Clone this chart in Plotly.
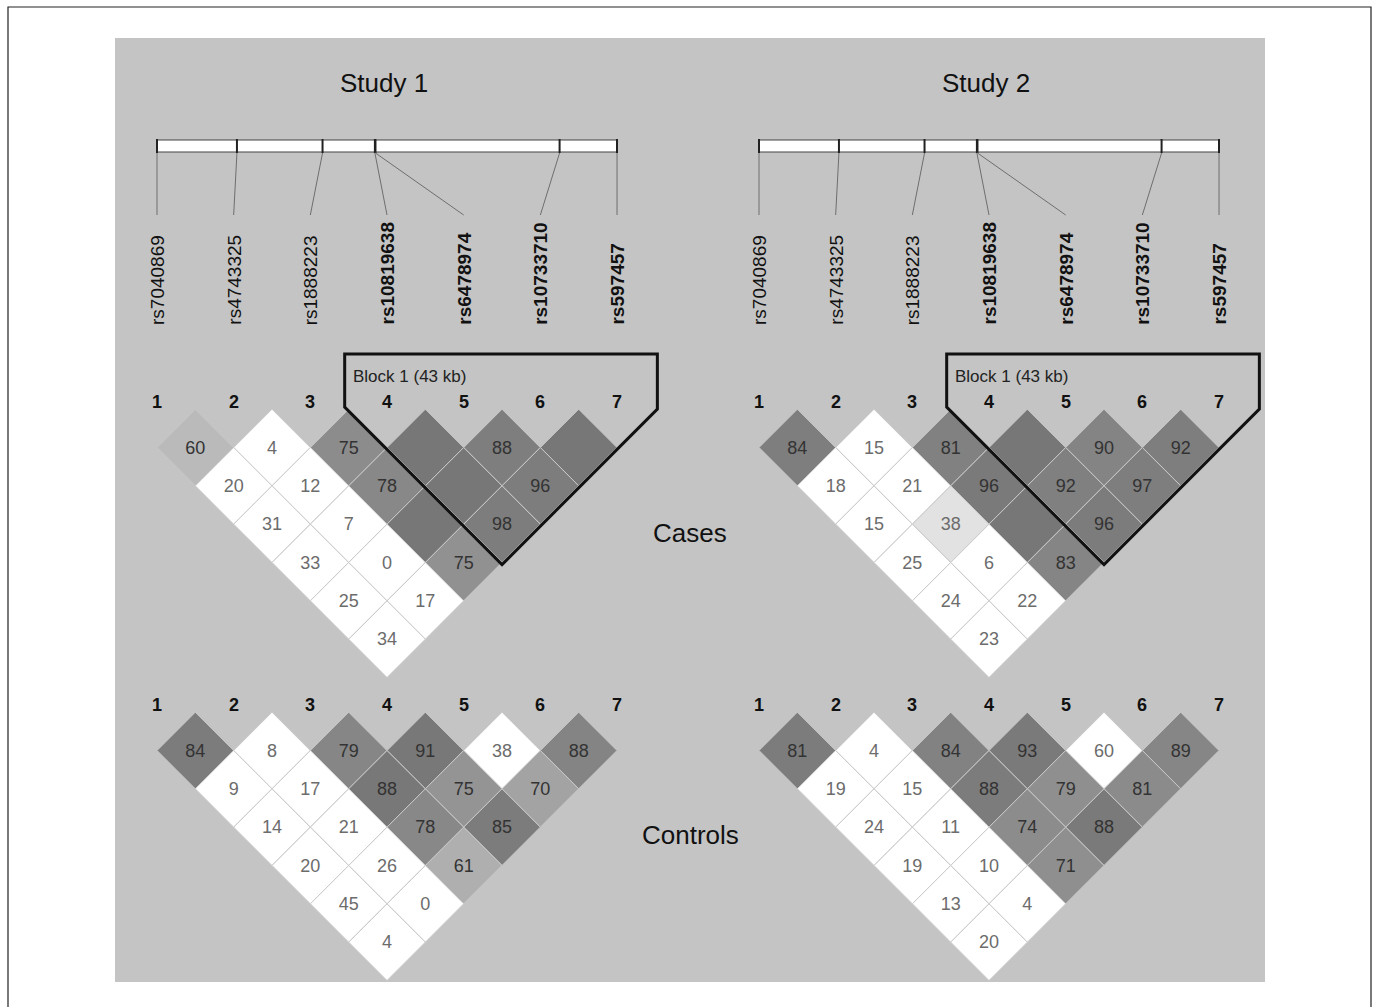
import plotly.graph_objects as go

# ---------------- DATA ----------------
markers = ["rs7040869", "rs4743325", "rs1888223", "rs10819638",
           "rs6478974", "rs10733710", "rs597457"]
marker_in_block = [False, False, False, True, True, True, True]
marker_kb = [0.0, 14.2, 29.4, 38.7, 38.8, 71.5, 81.7]   # physical position (kb)
block_range = (4, 7)                                     # 1-based markers
block_label = "Block 1 (43 kb)"

studies = ["Study 1", "Study 2"]
groups = ["Cases", "Controls"]

# D' x100 listed by diagonal distance d = 1..6 (first marker ascending).
# None = D' of 1 (Haploview leaves it blank)
s1_cases_dprime = [[60, 4, 75, None, 88, None],
                   [20, 12, 78, None, 96],
                   [31, 7, None, 98],
                   [33, 0, 75],
                   [25, 17],
                   [34]]
s1_cases_ld = [[0.50, 0, 0.84, 0.99, 0.94, 0.99],
               [0, 0, 0.87, 0.99, 0.95],
               [0, 0, 0.99, 0.95],
               [0, 0, 0.80],
               [0, 0],
               [0]]

s2_cases_dprime = [[84, 15, 81, None, 90, 92],
                   [18, 21, 96, 92, 97],
                   [15, 38, None, 96],
                   [25, 6, 83],
                   [24, 22],
                   [23]]
s2_cases_ld = [[0.94, 0, 0.92, 0.99, 0.90, 0.94],
               [0, 0, 0.97, 0.93, 0.94],
               [0, 0.21, 0.99, 0.955],
               [0, 0, 0.89],
               [0, 0],
               [0]]

s1_controls_dprime = [[84, 8, 79, 91, 38, 88],
                      [9, 17, 88, 75, 70],
                      [14, 21, 78, 85],
                      [20, 26, 61],
                      [45, 0],
                      [4]]
s1_controls_ld = [[0.955, 0, 0.88, 0.985, 0, 0.90],
                  [0, 0, 0.985, 0.78, 0.67],
                  [0, 0, 0.87, 0.955],
                  [0, 0, 0.585],
                  [0, 0],
                  [0]]

s2_controls_dprime = [[81, 4, 84, 93, 60, 89],
                      [19, 15, 88, 79, 81],
                      [24, 11, 74, 88],
                      [19, 10, 71],
                      [13, 4],
                      [20]]
s2_controls_ld = [[0.955, 0, 0.915, 0.97, 0, 0.88],
                  [0, 0, 0.955, 0.82, 0.85],
                  [0, 0, 0.84, 0.97],
                  [0, 0, 0.82],
                  [0, 0],
                  [0]]

panels = {
    (0, 0): (s1_cases_dprime, s1_cases_ld),
    (1, 0): (s2_cases_dprime, s2_cases_ld),
    (0, 1): (s1_controls_dprime, s1_controls_ld),
    (1, 1): (s2_controls_dprime, s2_controls_ld),
}

# ---------------- LAYOUT CONSTANTS ----------------
W, H = 1376, 1007
STUDY_X1 = [157, 759]          # x of marker 1 in each study
SP = 76.67                     # marker spacing
HALF = SP / 2
NUM_Y = [402, 705]             # y of marker numbers (cases, controls)
ROW1_OFF = 45.5
TEXT_NUDGE = 1.5
BAR_Y0, BAR_Y1 = 140, 152
CONN_Y = 215
LABEL_Y = 327
BLOCK_TOP = 354
FONT = "Liberation Sans, Arial, sans-serif"
BG_GRAY = "#c4c4c4"

n = len(markers)


def mx(s, i):          # i: 0-based marker index
    return STUDY_X1[s] + i * SP


def gray(v):
    g = round(255 - v * (255 - 118))
    return f"rgb({g},{g},{g})"


shapes = []
annotations = []
traces = []

# outer frame and gray panel
shapes.append(dict(type="rect", xref="x", yref="y", x0=8, x1=1371, y0=7, y1=1012,
                   line=dict(color="#222", width=1.2), fillcolor="white", layer="below"))
shapes.append(dict(type="rect", xref="x", yref="y", x0=115, x1=1265, y0=38, y1=982,
                   line=dict(width=0), fillcolor=BG_GRAY, layer="below"))

for s in range(2):
    x_first, x_last = mx(s, 0), mx(s, n - 1)
    kb_span = marker_kb[-1] - marker_kb[0]

    def kbx(kb):
        return x_first + (kb - marker_kb[0]) * (x_last - x_first) / kb_span

    # title
    annotations.append(dict(x=(x_first + x_last) / 2 - 3.5, y=83, text=studies[s],
                            showarrow=False, font=dict(family=FONT, size=26, color="#111"),
                            xanchor="center", yanchor="middle"))
    # gene bar
    shapes.append(dict(type="rect", xref="x", yref="y", x0=kbx(marker_kb[0]), x1=kbx(marker_kb[-1]),
                       y0=BAR_Y0, y1=BAR_Y1, fillcolor="white",
                       line=dict(color="#444", width=1.2), layer="below"))
    for i in range(n):
        px = kbx(marker_kb[i])
        shapes.append(dict(type="line", xref="x", yref="y", x0=px, x1=px,
                           y0=BAR_Y0 - 1, y1=BAR_Y1 + 1, line=dict(color="#222", width=2),
                           layer="below"))
        shapes.append(dict(type="line", xref="x", yref="y", x0=px, x1=mx(s, i),
                           y0=BAR_Y1 + 1, y1=CONN_Y, line=dict(color="#6e6e6e", width=1),
                           layer="below"))
        txt = f"<b>{markers[i]}</b>" if marker_in_block[i] else markers[i]
        annotations.append(dict(x=mx(s, i), y=LABEL_Y, text=txt, textangle=-90,
                                showarrow=False, xanchor="center", yanchor="bottom",
                                font=dict(family=FONT, size=19, color="#111")))

    for g in range(2):
        dvals, ldvals = panels[(s, g)]
        ny = NUM_Y[g]
        y1 = ny + ROW1_OFF
        # marker numbers
        for i in range(n):
            annotations.append(dict(x=mx(s, i), y=ny, text=f"<b>{i + 1}</b>", showarrow=False,
                                    xanchor="center", yanchor="middle",
                                    font=dict(family=FONT, size=18, color="#111")))
        tx, ty, tt, tc = [], [], [], []
        for d in range(1, n):
            for a in range(n - d):
                b = a + d
                cx = (mx(s, a) + mx(s, b)) / 2
                cy = y1 + (d - 1) * HALF
                v = ldvals[d - 1][a]
                path = (f"M {cx},{cy - HALF} L {cx + HALF},{cy} L {cx},{cy + HALF} "
                        f"L {cx - HALF},{cy} Z")
                shapes.append(dict(type="path", xref="x", yref="y", path=path, layer="below",
                                   fillcolor=gray(v), line=dict(color="#c9c9c9", width=1)))
                dv = dvals[d - 1][a]
                if dv is not None:
                    tx.append(cx)
                    ty.append(cy + TEXT_NUDGE)
                    tt.append(str(dv))
                    tc.append("#333333" if v > 0.3 else "#6c6c6c")
        traces.append(go.Scatter(x=tx, y=ty, text=tt, mode="text", textposition="middle center",
                                 textfont=dict(family=FONT, size=18, color=tc),
                                 hoverinfo="skip", showlegend=False, cliponaxis=False))

        # block outline (cases only in the original)
        if g == 0:
            bi, bj = block_range[0] - 1, block_range[1] - 1
            xa, xb = mx(s, bi), mx(s, bj)
            off = 2
            xl = xa - HALF - off - 2
            xr = xb + HALF + off
            bx = (xa + xb) / 2
            by = y1 + (bj - bi) * HALF + off
            yl = by - (bx - xl)
            yr = by - (xr - bx)
            path = (f"M {xl},{BLOCK_TOP} L {xl},{yl} L {bx},{by} L {xr},{yr} "
                    f"L {xr},{BLOCK_TOP} Z")
            shapes.append(dict(type="path", xref="x", yref="y", path=path, layer="above",
                               line=dict(color="#111", width=3), fillcolor="rgba(0,0,0,0)"))
            annotations.append(dict(x=xl + 6, y=376, text=block_label, showarrow=False,
                                    xanchor="left", yanchor="middle",
                                    font=dict(family=FONT, size=17, color="#222")))

# group labels
mid_x = (mx(0, n - 1) + mx(1, 0)) / 2 + 2
annotations.append(dict(x=mid_x, y=533, text=groups[0], showarrow=False,
                        font=dict(family=FONT, size=26, color="#111")))
annotations.append(dict(x=mid_x, y=835, text=groups[1], showarrow=False,
                        font=dict(family=FONT, size=26, color="#111")))

fig = go.Figure(traces)
fig.update_layout(
    width=W, height=H, margin=dict(l=0, r=0, t=0, b=0),
    paper_bgcolor="white", plot_bgcolor="white",
    xaxis=dict(range=[0, W], visible=False, fixedrange=True),
    yaxis=dict(range=[H, 0], visible=False, fixedrange=True),
    shapes=shapes, annotations=annotations, showlegend=False,
)
fig.write_html("out.html", config={"displayModeBar": False})
